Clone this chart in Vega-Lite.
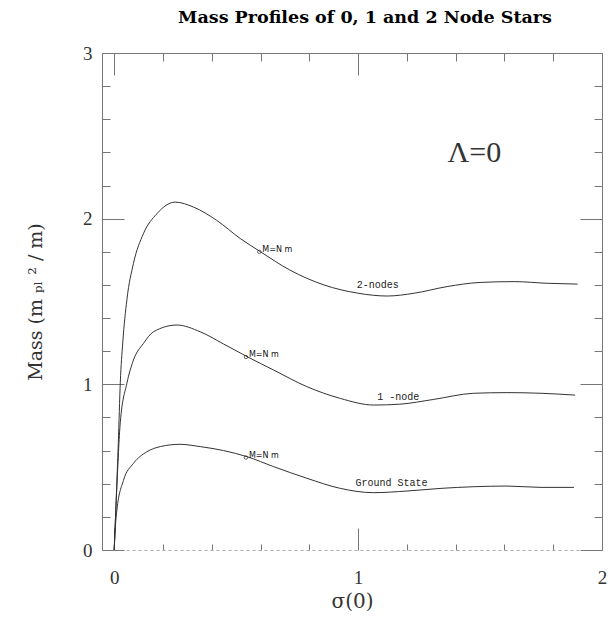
{
  "$schema": "https://vega.github.io/schema/vega-lite/v6.json",
  "width": 500,
  "height": 497,
  "autosize": {"type": "none"},
  "padding": {"left": 102, "top": 53, "right": 14, "bottom": 72},
  "background": "white",
  "title": {
    "text": "Mass Profiles of 0, 1 and 2 Node Stars",
    "font": "DejaVu Serif",
    "fontSize": 17.5,
    "fontWeight": "bold",
    "color": "black",
    "anchor": "middle",
    "dx": 13,
    "offset": 18
  },
  "config": {
    "view": {"stroke": null},
    "axis": {
      "grid": false,
      "labelFont": "Liberation Serif",
      "labelFontSize": 19,
      "labelColor": "#333",
      "labelOverlap": false,
      "labelBound": false,
      "labelFlush": false,
      "titleFont": "DejaVu Serif",
      "titleFontSize": 19,
      "titleFontWeight": "normal",
      "titleColor": "#333",
      "tickColor": "#777",
      "domainColor": "#777",
      "tickWidth": 1,
      "domainWidth": 1
    }
  },
  "datasets": {
    "profiles": [
      {"s": 0.0, "m": 0.0, "state": "2-nodes"},
      {"s": 0.008, "m": 0.3, "state": "2-nodes"},
      {"s": 0.017, "m": 0.65, "state": "2-nodes"},
      {"s": 0.025, "m": 1.01, "state": "2-nodes"},
      {"s": 0.035, "m": 1.25, "state": "2-nodes"},
      {"s": 0.052, "m": 1.51, "state": "2-nodes"},
      {"s": 0.079, "m": 1.73, "state": "2-nodes"},
      {"s": 0.12, "m": 1.91, "state": "2-nodes"},
      {"s": 0.175, "m": 2.03, "state": "2-nodes"},
      {"s": 0.25, "m": 2.10, "state": "2-nodes"},
      {"s": 0.325, "m": 2.07, "state": "2-nodes"},
      {"s": 0.42, "m": 1.99, "state": "2-nodes"},
      {"s": 0.517, "m": 1.88, "state": "2-nodes"},
      {"s": 0.6, "m": 1.80, "state": "2-nodes"},
      {"s": 0.72, "m": 1.69, "state": "2-nodes"},
      {"s": 0.86, "m": 1.60, "state": "2-nodes"},
      {"s": 1.0, "m": 1.55, "state": "2-nodes"},
      {"s": 1.12, "m": 1.533, "state": "2-nodes"},
      {"s": 1.23, "m": 1.55, "state": "2-nodes"},
      {"s": 1.365, "m": 1.59, "state": "2-nodes"},
      {"s": 1.5, "m": 1.615, "state": "2-nodes"},
      {"s": 1.64, "m": 1.62, "state": "2-nodes"},
      {"s": 1.775, "m": 1.61, "state": "2-nodes"},
      {"s": 1.9, "m": 1.605, "state": "2-nodes"},

      {"s": 0.0, "m": 0.0, "state": "1-node"},
      {"s": 0.01, "m": 0.35, "state": "1-node"},
      {"s": 0.025, "m": 0.77, "state": "1-node"},
      {"s": 0.052, "m": 1.006, "state": "1-node"},
      {"s": 0.079, "m": 1.147, "state": "1-node"},
      {"s": 0.12, "m": 1.247, "state": "1-node"},
      {"s": 0.161, "m": 1.317, "state": "1-node"},
      {"s": 0.257, "m": 1.358, "state": "1-node"},
      {"s": 0.353, "m": 1.317, "state": "1-node"},
      {"s": 0.449, "m": 1.243, "state": "1-node"},
      {"s": 0.545, "m": 1.167, "state": "1-node"},
      {"s": 0.654, "m": 1.086, "state": "1-node"},
      {"s": 0.79, "m": 0.986, "state": "1-node"},
      {"s": 0.927, "m": 0.915, "state": "1-node"},
      {"s": 1.064, "m": 0.875, "state": "1-node"},
      {"s": 1.17, "m": 0.88, "state": "1-node"},
      {"s": 1.31, "m": 0.909, "state": "1-node"},
      {"s": 1.474, "m": 0.946, "state": "1-node"},
      {"s": 1.61, "m": 0.95, "state": "1-node"},
      {"s": 1.75, "m": 0.946, "state": "1-node"},
      {"s": 1.89, "m": 0.935, "state": "1-node"},

      {"s": 0.0, "m": 0.0, "state": "ground"},
      {"s": 0.004, "m": 0.12, "state": "ground"},
      {"s": 0.011, "m": 0.24, "state": "ground"},
      {"s": 0.038, "m": 0.42, "state": "ground"},
      {"s": 0.079, "m": 0.523, "state": "ground"},
      {"s": 0.134, "m": 0.593, "state": "ground"},
      {"s": 0.189, "m": 0.624, "state": "ground"},
      {"s": 0.27, "m": 0.638, "state": "ground"},
      {"s": 0.353, "m": 0.624, "state": "ground"},
      {"s": 0.449, "m": 0.6, "state": "ground"},
      {"s": 0.545, "m": 0.563, "state": "ground"},
      {"s": 0.654, "m": 0.503, "state": "ground"},
      {"s": 0.79, "m": 0.433, "state": "ground"},
      {"s": 0.927, "m": 0.372, "state": "ground"},
      {"s": 1.064, "m": 0.346, "state": "ground"},
      {"s": 1.2, "m": 0.356, "state": "ground"},
      {"s": 1.34, "m": 0.372, "state": "ground"},
      {"s": 1.474, "m": 0.382, "state": "ground"},
      {"s": 1.61, "m": 0.386, "state": "ground"},
      {"s": 1.75, "m": 0.378, "state": "ground"},
      {"s": 1.885, "m": 0.378, "state": "ground"}
    ],
    "critical": [
      {"s": 0.595, "m": 1.80, "text": "M=N  m"},
      {"s": 0.54, "m": 1.165, "text": "M=N  m"},
      {"s": 0.54, "m": 0.558, "text": "M=N  m"}
    ],
    "curveNames": [
      {"s": 1.081, "m": 1.599, "text": "2-nodes"},
      {"s": 1.165, "m": 0.925, "text": "1 -node"},
      {"s": 1.137, "m": 0.402, "text": "Ground State"}
    ],
    "lambda": [
      {"s": 1.477, "m": 2.396, "text": "Λ=0"}
    ]
  },
  "resolve": {"axis": {"x": "independent", "y": "independent"}},
  "layer": [
    {
      "data": {"name": "profiles"},
      "mark": {"type": "line", "interpolate": "monotone", "color": "#333", "strokeWidth": 1},
      "encoding": {
        "detail": {"field": "state"},
        "x": {
          "field": "s", "type": "quantitative",
          "scale": {"domain": [-0.05, 2.0], "nice": false, "zero": false},
          "axis": {
            "orient": "bottom", "values": [0.2, 0.4, 0.6, 0.8, 1.2, 1.4, 1.6, 1.8],
            "tickSize": -6, "labels": false, "domain": false, "title": null
          }
        },
        "y": {
          "field": "m", "type": "quantitative",
          "scale": {"domain": [0, 3], "nice": false, "zero": false},
          "axis": {
            "orient": "left", "values": [0, 1, 2, 3], "format": "d",
            "tickSize": -22, "labelPadding": 32,
            "title": "Mass  (m ₚₗ ²  /  m)", "titlePadding": 37, "titleFontSize": 19
          }
        }
      }
    },
    {
      "data": {"name": "critical"},
      "mark": {"type": "point", "shape": "circle", "size": 12, "filled": false, "stroke": "#222", "strokeWidth": 1},
      "encoding": {
        "x": {
          "field": "s", "type": "quantitative",
          "axis": {
            "orient": "top", "values": [0.2, 0.4, 0.6, 0.8, 1.2, 1.4, 1.6, 1.8],
            "tickSize": -8, "labels": false, "domain": false, "title": null
          }
        },
        "y": {
          "field": "m", "type": "quantitative",
          "axis": {
            "orient": "left", "values": [0.2, 0.4, 0.6, 0.8, 1.2, 1.4, 1.6, 1.8, 2.2, 2.4, 2.6, 2.8],
            "tickSize": -8, "labels": false, "domain": false, "title": null
          }
        }
      }
    },
    {
      "data": {"name": "critical"},
      "mark": {"type": "text", "align": "left", "baseline": "middle", "dx": 3, "dy": -2, "font": "DejaVu Sans", "fontSize": 8, "color": "#111"},
      "encoding": {
        "text": {"field": "text"},
        "x": {
          "field": "s", "type": "quantitative",
          "axis": {
            "orient": "top", "values": [0, 0.5, 1, 1.5, 2],
            "tickOpacity": {"condition": {"test": "datum.value % 1 !== 0", "value": 0}, "value": 1},
            "tickSize": -22, "labels": false, "title": null
          }
        },
        "y": {
          "field": "m", "type": "quantitative",
          "axis": {
            "orient": "right", "values": [0, 1, 2, 3],
            "tickSize": -22, "labels": false, "title": null
          }
        }
      }
    },
    {
      "data": {"name": "curveNames"},
      "mark": {"type": "text", "align": "center", "baseline": "middle", "font": "Liberation Mono", "fontSize": 10, "color": "#222"},
      "encoding": {
        "text": {"field": "text"},
        "x": {"field": "s", "type": "quantitative", "axis": null},
        "y": {
          "field": "m", "type": "quantitative",
          "axis": {
            "orient": "right", "values": [0.2, 0.4, 0.6, 0.8, 1.2, 1.4, 1.6, 1.8, 2.2, 2.4, 2.6, 2.8],
            "tickSize": -8, "labels": false, "domain": false, "title": null
          }
        }
      }
    },
    {
      "data": {"name": "lambda"},
      "mark": {"type": "text", "align": "center", "baseline": "middle", "font": "Liberation Serif", "fontSize": 30, "color": "#333"},
      "encoding": {
        "text": {"field": "text"},
        "x": {
          "field": "s", "type": "quantitative",
          "axis": {
            "orient": "bottom", "values": [0, 0.5, 1, 1.5, 2],
            "labelExpr": "datum.value % 1 === 0 ? format(datum.value, 'd') : ''",
            "tickOpacity": {"condition": {"test": "datum.value % 1 !== 0", "value": 0}, "value": 1},
            "tickSize": -22, "labelPadding": 40,
            "domainDash": [3, 3], "domainColor": "#aaa",
            "title": "σ(0)", "titlePadding": 4, "titleFontSize": 20
          }
        },
        "y": {"field": "m", "type": "quantitative", "axis": null}
      }
    }
  ]
}
